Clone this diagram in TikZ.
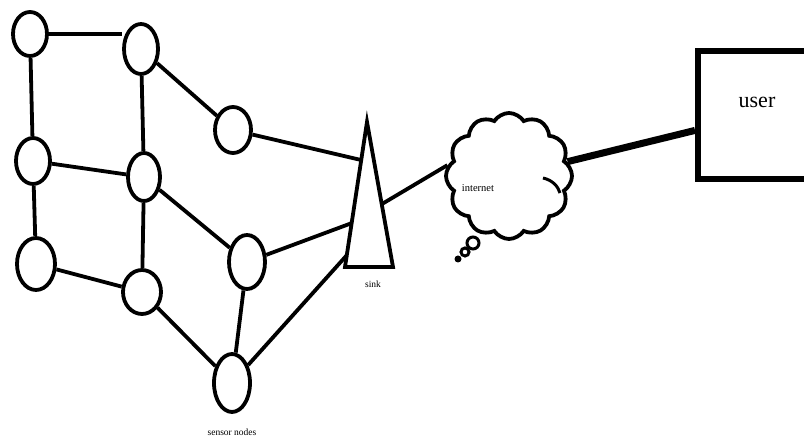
\documentclass[tikz,border=0pt]{standalone}
\usepackage{fontspec}
\setmainfont{Liberation Serif}
\usetikzlibrary{shapes.geometric,shapes.symbols,calc,backgrounds}
\begin{document}
\begin{tikzpicture}[x=1pt,y=-1pt,
  sn/.style={ellipse,draw,fill=white,line width=3.8pt,inner sep=0pt},
  ed/.style={line width=3.8pt},
  lbl/.style={font=\fontsize{9.5}{10}\selectfont,inner sep=0pt}]
\clip (0,0) rectangle (804,443);
% sensor nodes
\node[sn,minimum width=34pt,minimum height=44pt] (n1) at (30,34) {};
\node[sn,minimum width=34pt,minimum height=50pt] (n2) at (141,49) {};
\node[sn,minimum width=36pt,minimum height=46pt] (n3) at (233,130) {};
\node[sn,minimum width=34pt,minimum height=46pt] (n4) at (33,161) {};
\node[sn,minimum width=32pt,minimum height=48pt] (n5) at (144,177) {};
\node[sn,minimum width=38pt,minimum height=52pt] (n6) at (36,264) {};
\node[sn,minimum width=38pt,minimum height=44pt] (n7) at (142,292) {};
\node[sn,minimum width=36pt,minimum height=54pt] (n8) at (247,262) {};
\node[sn,minimum width=36pt,minimum height=58pt] (n9) at (232,383) {};
% sink triangle
\draw[line width=3.8pt,line join=miter] (367,122) -- (345,267) -- (393,267) -- cycle;
\coordinate (s1) at (361,160);
\coordinate (s2) at (352,223);
\coordinate (s3) at (347,255);
\coordinate (s4) at (382,204);
% cloud
\node[cloud,draw,fill=white,line width=3.8pt,cloud puffs=12,cloud puff arc=115,
  aspect=1,minimum width=126pt,minimum height=126pt] (cl) at (509,176) {};
\draw[line width=3pt] (543,178) .. controls (552,180) and (558,186) .. (560,193);
\draw[line width=3pt,fill=white] (473,243) circle (6);
\draw[line width=3pt,fill=white] (465,252) circle (4);
\fill (458,259) circle (3.5);
% user box
\node[draw,line width=6pt,minimum width=120pt,minimum height=128pt,anchor=north west] (usr) at (695,48) {};
% labels
\node[font=\fontsize{22}{24}\selectfont] (ut) at (757,102) {user};
\node[font=\fontsize{10.5}{11}\selectfont,inner sep=0pt] (it) at (478,188) {internet};
\node[lbl] (sk) at (373,284) {sink};
\node[lbl] (snl) at (232,432) {sensor nodes};
\begin{scope}[on background layer]
\fill[white] (0,0) rectangle (804,443);
\draw[ed] (n1.east) -- (n1.east -| n2.west);
\draw[ed] (n1) -- (n4);
\draw[ed] (n2) -- (n5);
\draw[ed] (n4) -- (n5);
\draw[ed] (n4) -- (n6);
\draw[ed] (n5) -- (n7);
\draw[ed] (n6) -- (n7);
\draw[ed] (n2) -- (n3);
\draw[ed] (n5) -- (n8);
\draw[ed] (n7) -- (n9);
\draw[ed] (n8) -- (n9);
\draw[ed] (n3) -- (s1);
\draw[ed] (n8) -- (s2);
\draw[ed] (n9) -- (s3);
\draw[ed] (s4) -- (cl.170);
\draw[line width=7pt] (cl) -- (usr);
\end{scope}
\end{tikzpicture}
\end{document}
